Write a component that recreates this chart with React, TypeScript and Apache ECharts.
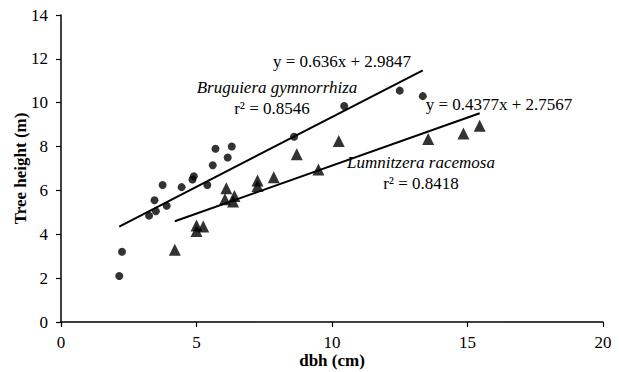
import React, { useEffect, useRef } from "react";
import * as echarts from "echarts";

const bruguieraX = [2.15, 2.25, 3.25, 3.5, 3.45, 3.75, 3.9, 4.45, 4.85, 4.9, 5.4, 5.6, 5.7, 6.15, 6.3, 8.6, 10.45, 12.5, 13.35];
const bruguieraY = [2.1, 3.2, 4.85, 5.05, 5.55, 6.25, 5.3, 6.15, 6.5, 6.65, 6.25, 7.15, 7.9, 7.5, 8.0, 8.45, 9.85, 10.55, 10.3];

const lumnitzeraX = [4.2, 5.0, 5.0, 5.25, 6.1, 6.05, 6.4, 6.35, 7.25, 7.25, 7.85, 8.7, 9.5, 10.25, 13.55, 14.85, 15.45];
const lumnitzeraY = [3.3, 4.4, 4.15, 4.35, 6.1, 5.6, 5.75, 5.5, 6.45, 6.2, 6.6, 7.65, 6.95, 8.25, 8.35, 8.6, 8.95];

// regression coefficients as printed on the chart
const bruguieraFit = { slope: 0.636, intercept: 2.9847, r2: "0.8546" };
const lumnitzeraFit = { slope: 0.4377, intercept: 2.7567, r2: "0.8418" };

const xTicks = [0, 5, 10, 15, 20];
const yTicks = [0, 2, 4, 6, 8, 10, 12, 14];

function fitLine(xs: number[], fit: { slope: number; intercept: number }) {
  const lo = Math.min(...xs);
  const hi = Math.max(...xs);
  return [
    [lo, fit.slope * lo + fit.intercept],
    [hi, fit.slope * hi + fit.intercept],
  ];
}

const FONT = "'Liberation Serif', 'Times New Roman', serif";

export default function App() {
  const ref = useRef<HTMLDivElement>(null);
  useEffect(() => {
    if (!ref.current) return;
    const chart = echarts.init(ref.current, undefined, { renderer: "svg" });
    const textStyle = { fontFamily: FONT, fontSize: 17, fill: "#000" };
    chart.setOption({
      animation: false,
      backgroundColor: "#fff",
      grid: { left: 61, right: 16, top: 15, bottom: 50, containLabel: false, outerBoundsMode: "none" },
      xAxis: {
        type: "value",
        min: xTicks[0],
        max: xTicks[xTicks.length - 1],
        interval: 5,
        name: "dbh (cm)",
        nameLocation: "middle",
        nameGap: 30,
        nameMoveOverlap: false,
        nameTextStyle: { fontFamily: FONT, fontWeight: "bold", fontSize: 17, color: "#000", lineHeight: 17 },
        axisLine: { lineStyle: { color: "#000", width: 1.5 } },
        axisTick: { show: true, length: 5, lineStyle: { color: "#000", width: 1.2 } },
        axisLabel: { fontFamily: FONT, fontSize: 17, color: "#000", margin: 12 },
        splitLine: { show: false },
      },
      yAxis: {
        type: "value",
        min: yTicks[0],
        max: yTicks[yTicks.length - 1],
        interval: 2,
        name: "Tree height (m)",
        nameLocation: "middle",
        nameGap: 32,
        nameMoveOverlap: false,
        nameTextStyle: { fontFamily: FONT, fontWeight: "bold", fontSize: 17, color: "#000", lineHeight: 17 },
        axisLine: { show: true, lineStyle: { color: "#000", width: 1.5 } },
        axisTick: { show: true, length: 5, lineStyle: { color: "#000", width: 1.2 } },
        axisLabel: { fontFamily: FONT, fontSize: 17, color: "#000", margin: 13 },
        splitLine: { show: false },
      },
      series: [
        {
          type: "scatter",
          symbol: "circle",
          symbolSize: 8,
          itemStyle: { color: "#000" },
          data: bruguieraX.map((x, i) => [x, bruguieraY[i]]),
        },
        {
          type: "scatter",
          symbol: "triangle",
          symbolSize: 12,
          itemStyle: { color: "#000" },
          data: lumnitzeraX.map((x, i) => [x, lumnitzeraY[i]]),
        },
        {
          type: "line",
          symbol: "none",
          lineStyle: { color: "#000", width: 2 },
          data: fitLine(bruguieraX, bruguieraFit),
        },
        {
          type: "line",
          symbol: "none",
          lineStyle: { color: "#000", width: 2 },
          data: fitLine(lumnitzeraX, lumnitzeraFit),
        },
      ],
      graphic: [
        {
          type: "text",
          x: 342,
          y: 61,
          style: { ...textStyle, text: `y = ${bruguieraFit.slope}x + ${bruguieraFit.intercept}`, align: "center", verticalAlign: "middle" },
        },
        {
          type: "text",
          x: 277,
          y: 87,
          style: { ...textStyle, fontStyle: "italic", text: "Bruguiera gymnorrhiza", align: "center", verticalAlign: "middle" },
        },
        {
          type: "text",
          x: 272,
          y: 108,
          style: { ...textStyle, text: `r² = ${bruguieraFit.r2}`, align: "center", verticalAlign: "middle" },
        },
        {
          type: "text",
          x: 499,
          y: 104,
          style: { ...textStyle, text: `y = ${lumnitzeraFit.slope}x + ${lumnitzeraFit.intercept}`, align: "center", verticalAlign: "middle" },
        },
        {
          type: "text",
          x: 421,
          y: 162,
          style: { ...textStyle, fontStyle: "italic", text: "Lumnitzera racemosa", align: "center", verticalAlign: "middle" },
        },
        {
          type: "text",
          x: 421,
          y: 183,
          style: { ...textStyle, text: `r² = ${lumnitzeraFit.r2}`, align: "center", verticalAlign: "middle" },
        },
      ],
    });
    return () => chart.dispose();
  }, []);
  return <div ref={ref} style={{ width: 619, height: 372, position: "absolute", left: 0, top: 0 }} />;
}
